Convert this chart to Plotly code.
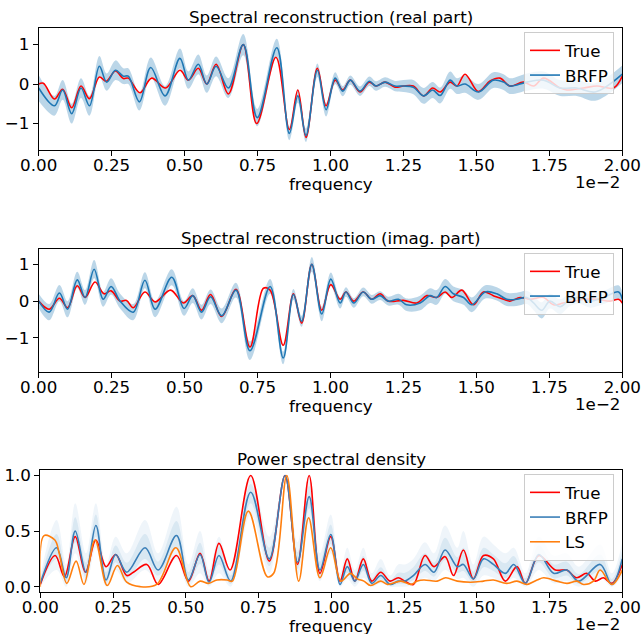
import plotly.graph_objects as go

# frequency axis is shown in units of 1e-2
freq_ticks = [0.0, 0.25, 0.5, 0.75, 1.0, 1.25, 1.5, 1.75, 2.0]
freq_tick_labels = ["0.00", "0.25", "0.50", "0.75", "1.00", "1.25", "1.50", "1.75", "2.00"]

# --- real part ---
real_true_f = [0.0, 0.016, 0.054, 0.082, 0.113, 0.145, 0.174, 0.208, 0.231, 0.263, 0.29, 0.307, 0.347,
               0.387, 0.435, 0.484, 0.513, 0.547, 0.576, 0.608, 0.65, 0.701, 0.747, 0.813, 0.859, 0.888,
               0.916, 0.955, 0.985, 1.016, 1.042, 1.068, 1.101, 1.133, 1.156, 1.187, 1.221, 1.25, 1.284,
               1.319, 1.35, 1.376, 1.41, 1.433, 1.461, 1.507, 1.547, 1.581, 1.615, 1.661, 1.696, 1.73,
               1.787, 1.81, 1.867, 1.913, 1.97, 2.0]
real_true = [0.0, 0.02, -0.38, -0.13, -0.6, -0.05, -0.37, 0.18, 0.07, 0.33, 0.14, 0.15, -0.22,
             0.15, -0.1, 0.35, 0.1, 0.4, 0.0, 0.5, -0.25, 1.0, -1.0, 0.68, -1.15, -0.15,
             -1.35, 0.4, -0.55, 0.1, -0.15, 0.1, -0.2, 0.05, -0.05, 0.05, -0.08, -0.05, -0.05,
             -0.3, -0.1, -0.2, 0.05, -0.05, 0.25, -0.19, 0.08, 0.15, -0.05, 0.05, -0.05, 0.15,
             -0.1, -0.15, -0.1, -0.05, -0.1, 0.2]

real_mean_f = [0.0, 0.054, 0.082, 0.113, 0.145, 0.174, 0.208, 0.233, 0.263, 0.29, 0.307, 0.345, 0.384,
               0.433, 0.484, 0.513, 0.547, 0.576, 0.608, 0.65, 0.701, 0.749, 0.816, 0.859, 0.888, 0.916,
               0.955, 0.985, 1.016, 1.042, 1.068, 1.101, 1.133, 1.156, 1.187, 1.221, 1.25, 1.284, 1.319,
               1.35, 1.376, 1.41, 1.433, 1.461, 1.507, 1.558, 1.593, 1.615, 1.673, 1.73, 1.787, 1.844,
               1.907, 2.0]
real_mean = [-0.1, -0.55, -0.15, -0.75, -0.1, -0.55, 0.45, 0.05, 0.35, 0.2, 0.2, -0.45, 0.42,
             -0.3, 0.65, 0.1, 0.5, 0.0, 0.45, -0.1, 1.0, -0.85, 0.92, -1.25, -0.3, -1.3,
             0.35, -0.65, 0.15, -0.18, 0.1, -0.18, 0.07, -0.05, 0.05, -0.05, -0.05, -0.08, -0.3,
             -0.15, -0.29, 0.1, -0.05, 0.0, -0.2, 0.1, 0.05, -0.05, 0.05, 0.1, -0.1, -0.1,
             -0.2, 0.25]
real_sd = [0.33, 0.25, 0.25, 0.25, 0.25, 0.25, 0.26, 0.22, 0.25, 0.2, 0.2, 0.22, 0.25,
           0.25, 0.25, 0.22, 0.25, 0.22, 0.25, 0.25, 0.27, 0.22, 0.23, 0.17, 0.17, 0.17,
           0.17, 0.17, 0.15, 0.13, 0.12, 0.12, 0.12, 0.12, 0.12, 0.13, 0.15, 0.18, 0.2,
           0.2, 0.2, 0.22, 0.2, 0.22, 0.2, 0.2, 0.2, 0.2, 0.22, 0.22, 0.2, 0.2,
           0.22, 0.22]

# --- imaginary part ---
imag_true_f = [0.0, 0.036, 0.071, 0.099, 0.132, 0.159, 0.193, 0.224, 0.248, 0.279, 0.301, 0.324, 0.364,
               0.399, 0.452, 0.496, 0.528, 0.558, 0.589, 0.627, 0.676, 0.724, 0.77, 0.793, 0.838, 0.873,
               0.901, 0.936, 0.97, 1.001, 1.033, 1.053, 1.08, 1.112, 1.141, 1.17, 1.198, 1.25, 1.296,
               1.33, 1.364, 1.393, 1.416, 1.45, 1.49, 1.524, 1.558, 1.593, 1.615, 1.65, 1.684, 1.73,
               1.764, 1.798, 1.833, 1.867, 1.913, 1.959, 1.987, 2.0]
imag_true = [0.0, -0.22, 0.08, -0.18, 0.42, 0.1, 0.52, 0.2, 0.28, 0.0, 0.02, -0.18, 0.25,
             -0.02, 0.3, -0.05, 0.15, -0.25, 0.18, -0.42, 0.32, -1.25, 0.35, 0.3, -1.2, 0.2,
             -0.6, 1.0, -0.25, 0.45, 0.05, 0.25, 0.0, 0.25, 0.05, 0.2, 0.0, 0.02, -0.05,
             0.15, 0.1, 0.25, 0.1, 0.3, -0.1, 0.25, 0.15, 0.05, 0.0, 0.1, 0.05, 0.1,
             -0.1, -0.05, 0.0, 0.05, 0.05, 0.0, 0.05, -0.05]

imag_mean_f = [0.0, 0.036, 0.071, 0.099, 0.132, 0.159, 0.19, 0.221, 0.248, 0.279, 0.324, 0.364, 0.399,
               0.456, 0.498, 0.528, 0.558, 0.589, 0.627, 0.676, 0.724, 0.793, 0.838, 0.873, 0.901, 0.936,
               0.97, 1.001, 1.033, 1.053, 1.08, 1.112, 1.141, 1.17, 1.198, 1.233, 1.261, 1.307, 1.341,
               1.364, 1.393, 1.421, 1.456, 1.484, 1.53, 1.57, 1.604, 1.638, 1.673, 1.696, 1.724, 1.752,
               1.787, 1.821, 1.856, 1.89, 1.936, 1.987, 2.0]
imag_mean = [0.0, -0.3, 0.22, -0.22, 0.58, 0.1, 0.87, 0.05, 0.4, 0.0, -0.3, 0.57, -0.22,
             0.65, -0.2, 0.15, -0.3, 0.12, -0.4, 0.3, -1.35, 0.4, -1.55, 0.18, -0.55, 1.0,
             -0.35, 0.6, -0.05, 0.25, -0.05, 0.25, 0.05, 0.15, 0.0, 0.05, -0.1, -0.05, 0.15,
             0.1, 0.4, 0.2, 0.1, -0.1, 0.25, 0.2, 0.05, 0.05, 0.1, -0.05, -0.25, 0.0,
             -0.15, 0.05, 0.1, 0.0, 0.1, 0.25, 0.05]
imag_sd = [0.2, 0.22, 0.22, 0.22, 0.22, 0.2, 0.25, 0.2, 0.22, 0.2, 0.22, 0.22, 0.22,
           0.22, 0.2, 0.2, 0.2, 0.2, 0.2, 0.2, 0.25, 0.2, 0.17, 0.15, 0.15, 0.2,
           0.2, 0.18, 0.15, 0.13, 0.13, 0.12, 0.12, 0.12, 0.12, 0.15, 0.17, 0.2, 0.2,
           0.2, 0.2, 0.2, 0.2, 0.2, 0.18, 0.18, 0.18, 0.18, 0.18, 0.2, 0.22, 0.2,
           0.2, 0.18, 0.18, 0.18, 0.18, 0.18, 0.18]

# --- power spectral density ---
psd_true_f = [0.0, 0.051, 0.083, 0.12, 0.155, 0.191, 0.226, 0.259, 0.297, 0.32, 0.366, 0.405, 0.468,
              0.509, 0.549, 0.58, 0.614, 0.652, 0.723, 0.787, 0.841, 0.884, 0.924, 0.961, 0.998, 1.03,
              1.055, 1.081, 1.11, 1.139, 1.17, 1.202, 1.23, 1.253, 1.282, 1.322, 1.353, 1.391, 1.42,
              1.454, 1.488, 1.523, 1.557, 1.598, 1.638, 1.667, 1.713, 1.77, 1.809, 1.843, 1.878, 1.907,
              1.935, 1.964, 2.0]
psd_true = [0.02, 0.28, 0.09, 0.45, 0.13, 0.42, 0.18, 0.29, 0.1, 0.13, 0.2, 0.02, 0.28,
            0.05, 0.3, 0.05, 0.39, 0.15, 1.0, 0.23, 1.0, 0.2, 1.0, 0.12, 0.45, 0.05,
            0.25, 0.05, 0.25, 0.05, 0.13, 0.05, 0.08, 0.05, 0.02, 0.28, 0.18, 0.27, 0.1,
            0.33, 0.07, 0.28, 0.25, 0.05, 0.18, 0.03, 0.28, 0.15, 0.15, 0.08, 0.12, 0.05,
            0.08, 0.03, 0.2]

psd_mean_f = [0.0, 0.056, 0.089, 0.12, 0.157, 0.191, 0.226, 0.259, 0.297, 0.36, 0.405, 0.468, 0.509,
              0.549, 0.58, 0.614, 0.654, 0.723, 0.787, 0.841, 0.884, 0.924, 0.961, 0.998, 1.03, 1.055,
              1.081, 1.11, 1.139, 1.17, 1.202, 1.23, 1.253, 1.282, 1.322, 1.353, 1.391, 1.433, 1.454,
              1.488, 1.523, 1.557, 1.598, 1.627, 1.667, 1.713, 1.764, 1.809, 1.85, 1.924, 1.964, 2.0]
psd_mean = [0.03, 0.35, 0.08, 0.5, 0.13, 0.55, 0.06, 0.29, 0.13, 0.35, 0.15, 0.46, 0.06,
            0.29, 0.04, 0.28, 0.05, 0.85, 0.25, 1.0, 0.22, 0.81, 0.15, 0.47, 0.02, 0.18,
            0.05, 0.2, 0.03, 0.1, 0.02, 0.05, 0.05, 0.1, 0.2, 0.13, 0.33, 0.18, 0.2,
            0.07, 0.25, 0.2, 0.12, 0.2, 0.03, 0.29, 0.12, 0.15, 0.05, 0.2, 0.02, 0.25]
psd_hi = [0.1, 0.6, 0.2, 0.75, 0.3, 0.75, 0.2, 0.45, 0.3, 0.6, 0.3, 0.72, 0.2,
          0.5, 0.15, 0.45, 0.15, 1.0, 0.45, 1.0, 0.4, 1.0, 0.3, 0.65, 0.12, 0.35,
          0.15, 0.35, 0.12, 0.25, 0.1, 0.2, 0.2, 0.25, 0.4, 0.3, 0.55, 0.35, 0.5,
          0.2, 0.45, 0.38, 0.3, 0.35, 0.12, 0.45, 0.28, 0.3, 0.18, 0.38, 0.12, 0.4]
psd_lo = [0.0, 0.15, 0.0, 0.3, 0.03, 0.35, 0.0, 0.15, 0.03, 0.15, 0.05, 0.25, 0.0,
          0.12, 0.0, 0.12, 0.0, 0.65, 0.12, 1.0, 0.1, 0.6, 0.05, 0.3, 0.0, 0.07,
          0.0, 0.08, 0.0, 0.03, 0.0, 0.0, 0.0, 0.02, 0.08, 0.05, 0.15, 0.07, 0.08,
          0.0, 0.1, 0.08, 0.03, 0.08, 0.0, 0.15, 0.03, 0.05, 0.0, 0.08, 0.0, 0.1]

psd_ls_f = [0.0, 0.013, 0.05, 0.065, 0.091, 0.123, 0.15, 0.188, 0.23, 0.265, 0.297, 0.343, 0.4,
            0.466, 0.517, 0.549, 0.578, 0.607, 0.642, 0.66, 0.715, 0.78, 0.802, 0.847, 0.888, 0.922,
            0.961, 0.998, 1.033, 1.066, 1.089, 1.112, 1.135, 1.17, 1.193, 1.239, 1.273, 1.296, 1.318,
            1.364, 1.393, 1.433, 1.479, 1.523, 1.557, 1.603, 1.638, 1.672, 1.707, 1.73, 1.775, 1.81,
            1.844, 1.867, 1.901, 1.924, 1.964, 2.0]
psd_ls = [0.0, 0.46, 0.42, 0.3, 0.03, 0.23, 0.02, 0.42, 0.01, 0.19, 0.04, 0.0, 0.02,
          0.35, 0.0, 0.05, 0.03, 0.06, 0.06, 0.05, 0.68, 0.09, 0.12, 1.0, 0.05, 0.62,
          0.08, 0.35, 0.05, 0.12, 0.07, 0.05, 0.01, 0.05, 0.02, 0.05, 0.02, 0.05, 0.06,
          0.05, 0.08, 0.05, 0.04, 0.05, 0.06, 0.03, 0.05, 0.02, 0.06, 0.08, 0.05, 0.03,
          0.05, 0.02, 0.05, 0.15, 0.02, 0.15]

W, H = 642, 634
RED = "#ff0000"
BLUE = "#1f77b4"
ORANGE = "#ff7f0e"
FONT = "DejaVu Sans"
FS = 16.7

fig = go.Figure()


def fill_band(fx, lower, upper, color, xa, ya):
    fig.add_trace(go.Scatter(x=fx, y=upper, mode="lines", line=dict(width=0, shape="spline"),
                             xaxis=xa, yaxis=ya, showlegend=False, hoverinfo="skip"))
    fig.add_trace(go.Scatter(x=fx, y=lower, mode="lines", line=dict(width=0, shape="spline"),
                             fill="tonexty", fillcolor=color, xaxis=xa, yaxis=ya,
                             showlegend=False, hoverinfo="skip"))


def line(fx, vals, color, name, xa, ya, leg):
    fig.add_trace(go.Scatter(x=fx, y=vals, mode="lines", name=name,
                             line=dict(color=color, width=1.6, shape="spline"),
                             xaxis=xa, yaxis=ya, legend=leg))


# real part
fill_band(real_mean_f, [m - s for m, s in zip(real_mean, real_sd)],
          [m + s for m, s in zip(real_mean, real_sd)], "rgba(31,119,180,0.3)", "x", "y")
line(real_true_f, real_true, RED, "True", "x", "y", "legend")
line(real_mean_f, real_mean, BLUE, "BRFP", "x", "y", "legend")

# imaginary part
fill_band(imag_mean_f, [m - s for m, s in zip(imag_mean, imag_sd)],
          [m + s for m, s in zip(imag_mean, imag_sd)], "rgba(31,119,180,0.3)", "x2", "y2")
line(imag_true_f, imag_true, RED, "True", "x2", "y2", "legend2")
line(imag_mean_f, imag_mean, BLUE, "BRFP", "x2", "y2", "legend2")

# psd: posterior samples drawn as two nested translucent envelopes
fill_band(psd_mean_f, psd_lo, psd_hi, "rgba(31,119,180,0.07)", "x3", "y3")
fill_band(psd_mean_f, [m - 0.5 * (m - l) for m, l in zip(psd_mean, psd_lo)],
          [m + 0.5 * (h - m) for m, h in zip(psd_mean, psd_hi)], "rgba(31,119,180,0.10)", "x3", "y3")
line(psd_true_f, psd_true, RED, "True", "x3", "y3", "legend3")
line(psd_mean_f, psd_mean, "#3a7fb8", "BRFP", "x3", "y3", "legend3")
line(psd_ls_f, psd_ls, ORANGE, "LS", "x3", "y3", "legend3")

# panel geometry in screen pixels: (left, right, top, bottom)
panels = [(38.7, 622.3, 28, 150), (38.7, 622.3, 249, 372), (40.3, 622.3, 470, 592)]
yranges = [[-1.67, 1.42], [-1.93, 1.42], [-0.048, 1.05]]
yticks = [[-1, 0, 1], [-1, 0, 1], [0.0, 0.5, 1.0]]
yfmt = ["d", "d", ".1f"]
titles = ["Spectral reconstruction (real part)", "Spectral reconstruction (imag. part)",
          "Power spectral density"]


def px(x):
    return x / W


def py(y):
    return 1 - y / H


axis_common = dict(showline=True, linecolor="black", linewidth=1, mirror=True, ticks="outside",
                   ticklen=5, tickwidth=1, tickcolor="black", showgrid=False, zeroline=False,
                   automargin=False, tickfont=dict(family=FONT, size=FS, color="black"))

layout = dict(width=W, height=H, margin=dict(l=0, r=0, t=0, b=0, autoexpand=False),
              plot_bgcolor="white", paper_bgcolor="white",
              font=dict(family=FONT, size=FS, color="black"))
annotations = []
for i, ((l, r, t, b), yr, yt, fmt, title) in enumerate(zip(panels, yranges, yticks, yfmt, titles)):
    sx = "" if i == 0 else str(i + 1)
    layout["xaxis" + sx] = dict(domain=[px(l), px(r)], range=[0, 2], tickvals=freq_ticks,
                                ticktext=freq_tick_labels, anchor="y" + sx,
                                ticklabelstandoff=-5, **axis_common)
    layout["yaxis" + sx] = dict(domain=[py(b), py(t)], range=yr, tickvals=yt,
                                tickformat=fmt, anchor="x" + sx, **axis_common)
    cx = px((l + r) / 2)
    annotations.append(dict(text=title, x=cx, y=py(t - 11), xref="paper", yref="paper",
                            showarrow=False, yanchor="middle", font=dict(size=FS)))
    annotations.append(dict(text="frequency", x=cx, y=py(b + 34), xref="paper", yref="paper",
                            showarrow=False, yanchor="middle", font=dict(size=FS)))
    annotations.append(dict(text="1e\u22122", x=px(r), y=py(b + 32), xref="paper",
                            yref="paper", showarrow=False, xanchor="right", yanchor="middle",
                            font=dict(size=FS)))
    layout["legend" + sx] = dict(x=px(614), y=py(t + 4), xanchor="right", yanchor="top",
                                 traceorder="normal", bgcolor="rgba(255,255,255,0.8)",
                                 bordercolor="#cccccc", borderwidth=1,
                                 font=dict(family=FONT, size=FS), itemwidth=30)

layout["annotations"] = annotations
fig.update_layout(**layout)

# drop the default 8px page margin so the figure fills the window exactly
fig.write_html("out.html", config={"displayModeBar": False},
               post_script="document.body.style.margin = '0';")
